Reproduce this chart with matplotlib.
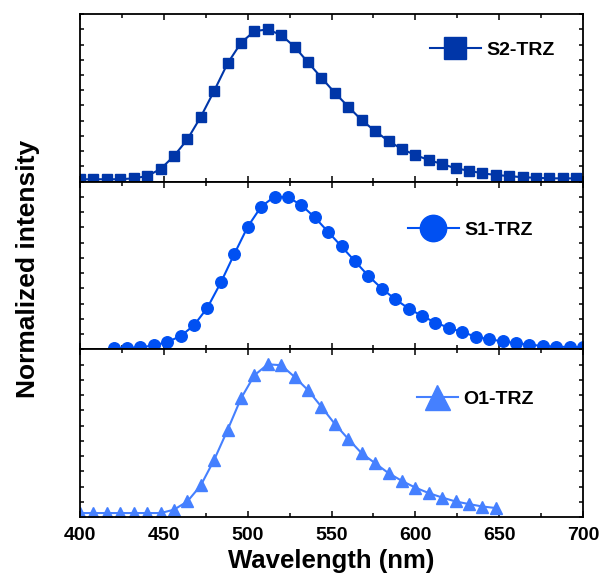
import numpy as np
import matplotlib
matplotlib.use("Agg")
import matplotlib.pyplot as plt

plt.rcParams['font.family'] = ['Liberation Sans', 'DejaVu Sans']
plt.rcParams['font.weight'] = 'bold'

# S2-TRZ, 400..696 nm every 8 nm
wl_s2 = np.arange(400, 697, 8)
s2 = [0.016, 0.016, 0.016, 0.016, 0.022, 0.037, 0.083, 0.168, 0.277, 0.425,
      0.596, 0.776, 0.911, 0.988, 0.999, 0.962, 0.885, 0.783, 0.682, 0.583,
      0.492, 0.404, 0.332, 0.267, 0.214, 0.175, 0.142, 0.116, 0.088, 0.072,
      0.055, 0.044, 0.037, 0.029, 0.026, 0.022, 0.022, 0.022]

# S1-TRZ, 420..700 nm every 8 nm
wl_s1 = np.arange(420, 701, 8)
s1 = [0.009, 0.009, 0.013, 0.026, 0.048, 0.087, 0.158, 0.274, 0.439, 0.625,
      0.804, 0.936, 1.002, 0.998, 0.947, 0.866, 0.771, 0.675, 0.578, 0.482,
      0.399, 0.329, 0.268, 0.219, 0.176, 0.141, 0.114, 0.083, 0.066, 0.053,
      0.041, 0.031, 0.022, 0.018, 0.015, 0.015]

# O1-TRZ, 400..648 nm every 8 nm
wl_o1 = np.arange(400, 649, 8)
o1 = [0.026, 0.026, 0.026, 0.026, 0.026, 0.026, 0.026, 0.048, 0.102, 0.207,
      0.375, 0.571, 0.778, 0.930, 1.002, 0.996, 0.919, 0.832, 0.723, 0.610,
      0.512, 0.418, 0.353, 0.288, 0.237, 0.193, 0.157, 0.128, 0.102, 0.085,
      0.069, 0.059]

series = [
    (wl_s2, s2, 'S2-TRZ', 's', '#0036A8', 7.5, 16.5, (0.696, 0.785), 2.6),
    (wl_s1, s1, 'S1-TRZ', 'o', '#0050F2', 8.3, 19, (0.652, 0.711), 2.6),
    (wl_o1, o1, 'O1-TRZ', '^', '#4580FF', 8.6, 18, (0.670, 0.703), 2.1),
]

fig, axes = plt.subplots(3, 1, sharex=True, figsize=(6.04, 5.85), dpi=100)
fig.subplots_adjust(left=0.1325, right=0.9652, bottom=0.1162, top=0.976, hspace=0)

for ax, (x, y, name, mk, col, ms, lms, anchor, hl) in zip(axes, series):
    ax.plot(x, y, color=col, lw=1.5, marker=mk, ms=ms, label=name)
    ax.set_xlim(400, 700)
    ax.set_ylim(0, 1.1)
    ax.set_yticks(np.arange(0, 1.11, 0.1))
    ax.set_yticklabels([])
    ax.set_xticks(np.arange(400, 701, 50))
    ax.set_xticks(np.arange(400, 701, 25), minor=True)
    ax.tick_params(which='both', direction='in', top=True, right=True, width=1.1)
    ax.tick_params(which='major', length=4)
    ax.tick_params(which='minor', length=3)
    ax.tick_params(axis='y', length=3)
    for sp in ax.spines.values():
        sp.set_linewidth(1.3)
    leg = ax.legend(loc='center left', bbox_to_anchor=anchor, frameon=False,
                    borderpad=0, borderaxespad=0, handlelength=hl,
                    handletextpad=0.3, markerscale=lms / ms,
                    prop={'size': 14, 'weight': 'bold'})

axes[-1].tick_params(axis='x', labelsize=14, pad=7)
for lab in axes[-1].get_xticklabels():
    lab.set_fontweight('bold')
axes[-1].set_xlabel('Wavelength (nm)', fontsize=18.5, fontweight='bold', labelpad=4)
fig.text(0.047, 0.541, 'Normalized intensity', rotation=90, fontsize=19,
         fontweight='bold', ha='center', va='center')

fig.savefig('out.png', dpi=100)
